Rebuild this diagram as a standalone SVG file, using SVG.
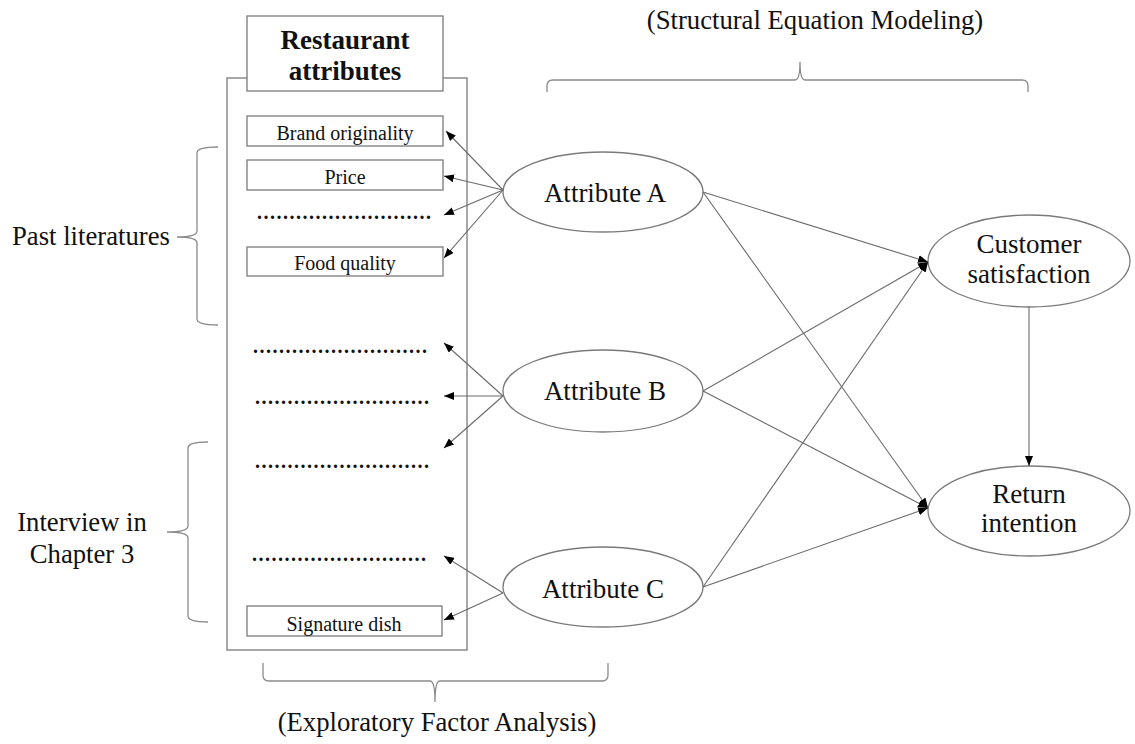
<svg xmlns="http://www.w3.org/2000/svg" width="1135" height="744" viewBox="0 0 1135 744">
<defs>
<marker id="arr" markerUnits="userSpaceOnUse" markerWidth="10" markerHeight="8" refX="10" refY="4" orient="auto">
<path d="M0,0 L10,4 L0,8 z" fill="#000"/>
</marker>
<style>
.t{font-family:"Liberation Serif","Times New Roman",serif;fill:#111;}
.big{font-size:26.7px;}
.sm{font-size:20px;}
.box{fill:#fff;stroke:#7a7a7a;stroke-width:1.3;}
.ell{fill:#fff;stroke:#7a7a7a;stroke-width:1.3;}
.br{fill:none;stroke:#8a8a8a;stroke-width:1.3;}
.c{fill:none;stroke:#6a6a6a;stroke-width:1.1;marker-end:url(#arr);}
.dots{font-family:"Liberation Serif",serif;font-size:20px;font-weight:bold;letter-spacing:1.5px;fill:#111;}
</style>
</defs>
<rect width="1135" height="744" fill="#fff"/>

<g id="frame">
<rect class="box" x="227" y="78" width="240" height="572"/>
</g>
<g id="header">
<rect class="box" x="247" y="16" width="196" height="75"/>
<text class="t" x="345" y="49" text-anchor="middle" font-size="27" font-weight="bold">Restaurant</text>
<text class="t" x="345" y="80" text-anchor="middle" font-size="27" font-weight="bold">attributes</text>
</g>

<g id="item-brand">
<rect class="box" x="247" y="116" width="196" height="30"/>
<text class="t sm" x="345" y="140" text-anchor="middle">Brand originality</text>
</g>
<g id="item-price">
<rect class="box" x="247" y="160" width="196" height="30"/>
<text class="t sm" x="345" y="184" text-anchor="middle">Price</text>
</g>
<g id="item-dots1"><text class="dots" x="257" y="219">...........................</text></g>
<g id="item-food">
<rect class="box" x="247" y="247" width="196" height="29"/>
<text class="t sm" x="345" y="270" text-anchor="middle">Food quality</text>
</g>
<g id="item-dots2"><text class="dots" x="253" y="353">...........................</text></g>
<g id="item-dots3"><text class="dots" x="255" y="404">...........................</text></g>
<g id="item-dots4"><text class="dots" x="255" y="468">...........................</text></g>
<g id="item-dots5"><text class="dots" x="252" y="561">...........................</text></g>
<g id="item-signature">
<rect class="box" x="247" y="606" width="195" height="30"/>
<text class="t sm" x="344" y="631" text-anchor="middle">Signature dish</text>
</g>

<g id="attr-a">
<ellipse class="ell" cx="603" cy="192" rx="100" ry="40"/>
<text class="t" x="605" y="202" text-anchor="middle" font-size="27">Attribute A</text>
</g>
<g id="attr-b">
<ellipse class="ell" cx="603" cy="391" rx="100" ry="41"/>
<text class="t" x="605" y="400" text-anchor="middle" font-size="27">Attribute B</text>
</g>
<g id="attr-c">
<ellipse class="ell" cx="603" cy="587" rx="100" ry="40"/>
<text class="t" x="603" y="598" text-anchor="middle" font-size="27">Attribute C</text>
</g>
<g id="satisfaction">
<ellipse class="ell" cx="1029" cy="261" rx="101" ry="46"/>
<text class="t" x="1029" y="253" text-anchor="middle" font-size="27">Customer</text>
<text class="t" x="1029" y="283" text-anchor="middle" font-size="27">satisfaction</text>
</g>
<g id="return">
<ellipse class="ell" cx="1029" cy="511" rx="101" ry="45"/>
<text class="t" x="1029" y="503" text-anchor="middle" font-size="27">Return</text>
<text class="t" x="1029" y="532" text-anchor="middle" font-size="27">intention</text>
</g>

<g id="labels">
<text class="t big" x="12" y="245">Past literatures</text>
<text class="t big" x="82" y="531" text-anchor="middle">Interview in</text>
<text class="t big" x="82" y="563" text-anchor="middle">Chapter 3</text>
<text class="t big" x="815" y="29" text-anchor="middle">(Structural Equation Modeling)</text>
<text class="t big" x="437" y="731" text-anchor="middle">(Exploratory Factor Analysis)</text>
</g>

<g id="braces">
<path class="br" d="M218,147 Q197,147 197,153 L197,231 Q197,237 177,237 Q197,237 197,243 L197,319 Q197,325 218,325"/>
<path class="br" d="M208,442 Q188,442 188,448 L188,526 Q188,532 167,532 Q188,532 188,538 L188,616 Q188,622 208,622"/>
<path class="br" d="M547,92 L547,86 Q547,80 553,80 L795,80 Q800,80 800,62 Q800,80 805,80 L1022,80 Q1028,80 1028,86 L1028,92"/>
<path class="br" d="M263,663 L263,675 Q263,681 269,681 L430,681 Q435,681 435,702 Q435,681 440,681 L602,681 Q608,681 608,675 L608,663"/>
</g>

<g id="connectors">
<line class="c" x1="503" y1="190" x2="446" y2="131"/>
<line class="c" x1="503" y1="190" x2="444" y2="176"/>
<line class="c" x1="503" y1="190" x2="444" y2="215"/>
<line class="c" x1="503" y1="190" x2="444" y2="258"/>
<line class="c" x1="503" y1="396" x2="444" y2="343"/>
<line class="c" x1="503" y1="396" x2="444" y2="396"/>
<line class="c" x1="503" y1="396" x2="444" y2="448"/>
<line class="c" x1="503" y1="593" x2="444" y2="556"/>
<line class="c" x1="503" y1="593" x2="444" y2="620"/>
<line class="c" x1="703" y1="192" x2="928" y2="262"/>
<line class="c" x1="703" y1="192" x2="928" y2="508"/>
<line class="c" x1="703" y1="391" x2="928" y2="262"/>
<line class="c" x1="703" y1="391" x2="928" y2="508"/>
<line class="c" x1="703" y1="587" x2="928" y2="262"/>
<line class="c" x1="703" y1="587" x2="928" y2="508"/>
<line class="c" x1="1029" y1="307" x2="1029" y2="466"/>
</g>
</svg>
